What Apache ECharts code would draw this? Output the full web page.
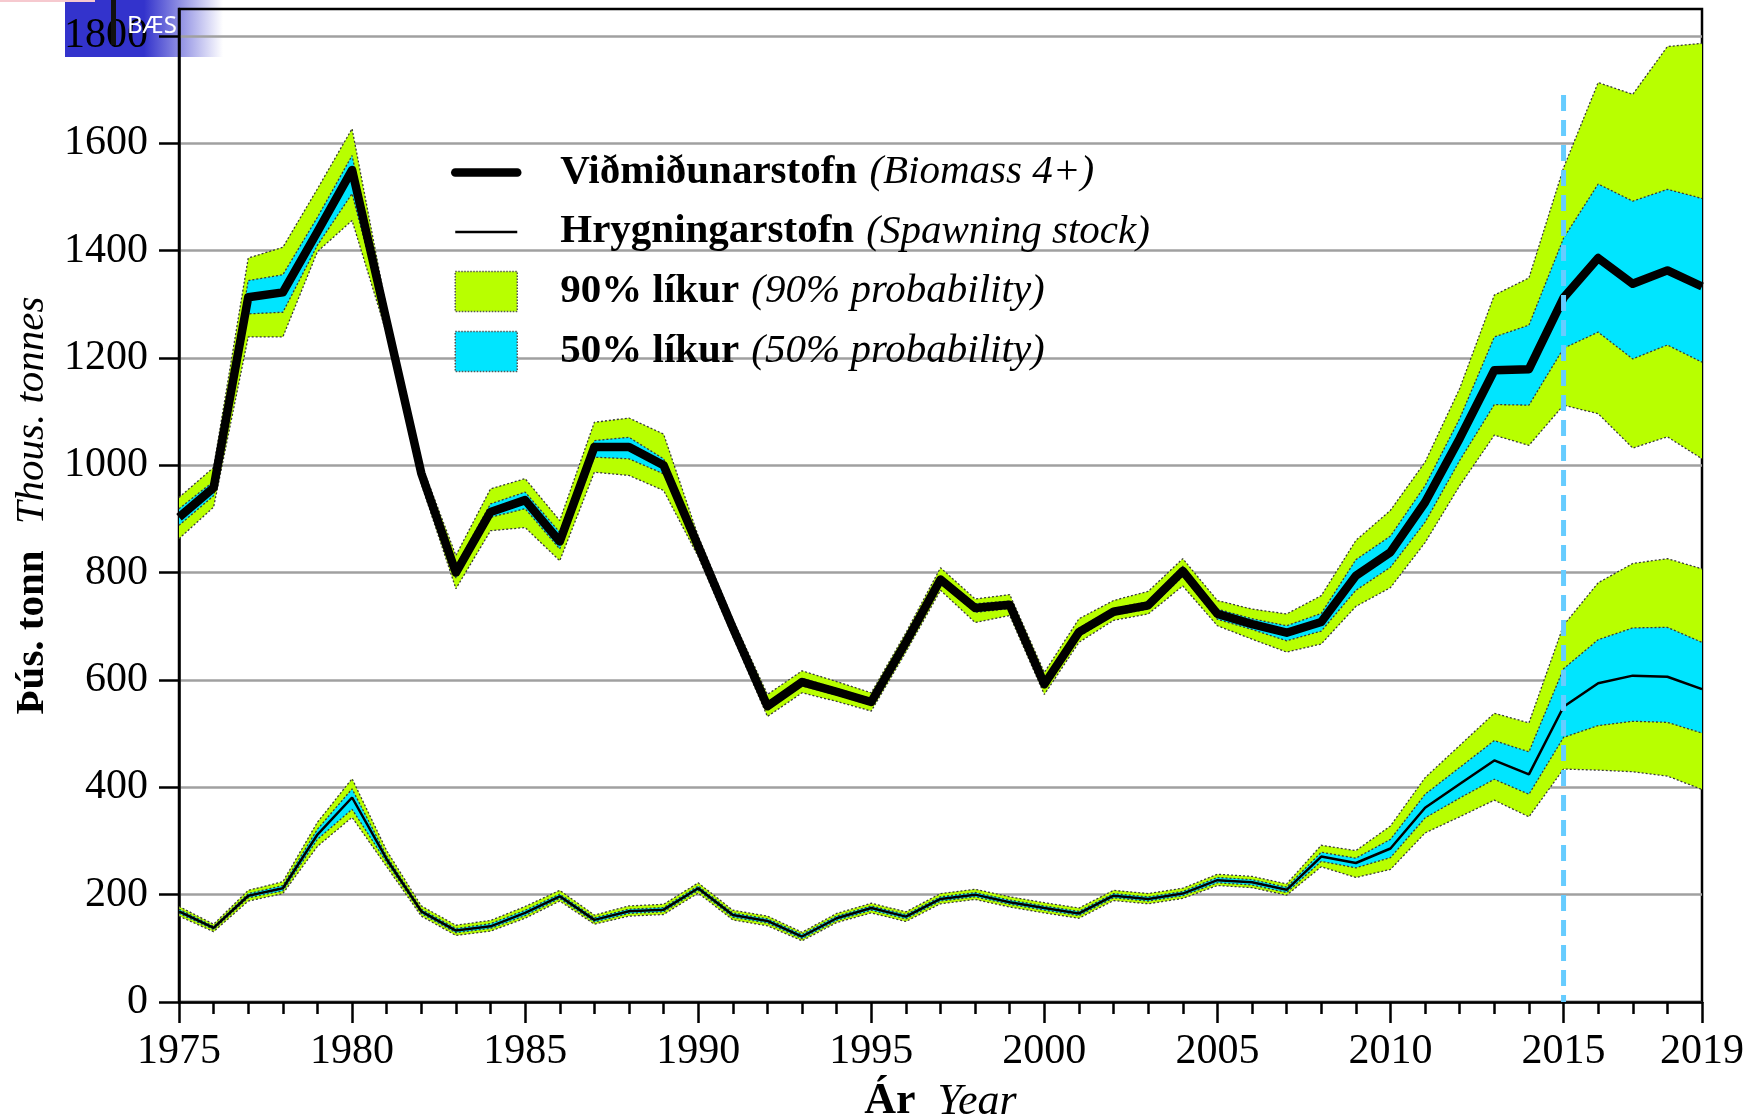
<!DOCTYPE html>
<html>
<head>
<meta charset="utf-8">
<title>Viðmiðunarstofn og hrygningarstofn</title>
<script src="https://cdn.jsdelivr.net/npm/echarts@6.0.0/dist/echarts.min.js"></script>
<style>
  html, body { margin: 0; padding: 0; background: #fff; }
  #chart { width: 1752px; height: 1119px; }
</style>
</head>
<body>
<div id="chart"></div>
<script>
// ár
const years = [1975, 1976, 1977, 1978, 1979, 1980, 1981, 1982, 1983, 1984,
  1985, 1986, 1987, 1988, 1989, 1990, 1991, 1992, 1993, 1994,
  1995, 1996, 1997, 1998, 1999, 2000, 2001, 2002, 2003, 2004,
  2005, 2006, 2007, 2008, 2009, 2010, 2011, 2012, 2013, 2014,
  2015, 2016, 2017, 2018, 2019]

// Viðmiðunarstofn (Biomass 4+), þús. tonn
const bioMedian = [903, 958, 1313, 1322, 1435, 1550, 1268, 985, 800, 913,
  935, 858, 1034, 1034, 1000, 849, 697, 551, 596, 578,
  559, 670, 787, 734, 740, 592, 689, 727, 739, 803,
  723, 704, 688, 708, 794, 838, 931, 1050, 1177, 1179,
  1312, 1386, 1338, 1363, 1333]
const bio90Low = [863, 922, 1239, 1239, 1398, 1456, 1245, 965, 770, 878,
  884, 822, 987, 981, 953, 830, 681, 532, 576, 560,
  542, 652, 767, 707, 720, 573, 670, 711, 723, 775,
  701, 676, 652, 667, 737, 772, 856, 962, 1056, 1037,
  1112, 1096, 1032, 1053, 1012]
const bio90High = [940, 996, 1386, 1406, 1515, 1627, 1290, 1002, 832, 956,
  975, 897, 1080, 1088, 1058, 868, 713, 573, 617, 597,
  576, 688, 809, 751, 759, 614, 714, 748, 765, 826,
  748, 732, 723, 757, 860, 916, 1006, 1143, 1317, 1349,
  1554, 1713, 1691, 1780, 1786]
const bio50Low = [888, 943, 1282, 1285, 1410, 1506, 1258, 977, 790, 903,
  919, 844, 1015, 1012, 984, 843, 691, 545, 589, 572,
  553, 664, 780, 726, 733, 585, 681, 721, 732, 793,
  713, 694, 673, 691, 767, 810, 894, 1009, 1113, 1112,
  1218, 1248, 1198, 1224, 1192]
const bio50High = [919, 970, 1344, 1355, 1462, 1577, 1278, 993, 812, 928,
  950, 875, 1046, 1052, 1012, 856, 703, 558, 603, 584,
  565, 676, 794, 742, 747, 599, 697, 733, 746, 812,
  732, 714, 701, 724, 824, 868, 962, 1087, 1239, 1261,
  1423, 1524, 1492, 1514, 1497]

// Hrygningarstofn (Spawning stock), þús. tonn
const ssbMedian = [169, 138, 198, 212, 312, 381, 266, 169, 133, 141,
  166, 197, 153, 169, 172, 212, 162, 151, 122, 156,
  175, 159, 192, 200, 186, 175, 165, 198, 192, 202,
  227, 223, 209, 271, 259, 286, 362, 406, 450, 424,
  550, 594, 608, 606, 583]
const ssb90Low = [160, 131, 188, 202, 290, 344, 252, 160, 124, 132,
  156, 188, 145, 160, 163, 203, 153, 142, 114, 148,
  166, 150, 183, 191, 177, 166, 156, 189, 183, 193,
  217, 213, 199, 252, 232, 247, 315, 345, 376, 345,
  434, 432, 429, 421, 396]
const ssb90High = [178, 145, 208, 224, 335, 416, 282, 179, 143, 152,
  178, 208, 162, 179, 182, 222, 171, 160, 130, 165,
  184, 168, 202, 210, 196, 185, 175, 208, 202, 212,
  238, 234, 220, 292, 282, 328, 418, 478, 538, 520,
  702, 781, 817, 826, 807]
const ssb50Low = [165, 135, 194, 207, 303, 359, 260, 165, 129, 137,
  161, 193, 149, 165, 168, 208, 158, 147, 118, 152,
  171, 155, 188, 196, 182, 171, 161, 194, 188, 198,
  222, 218, 204, 262, 250, 269, 343, 380, 415, 387,
  493, 515, 523, 521, 501]
const ssb50High = [173, 141, 202, 217, 322, 397, 272, 173, 137, 146,
  171, 201, 157, 173, 176, 216, 166, 155, 126, 160,
  179, 163, 196, 204, 190, 179, 169, 202, 196, 206,
  232, 228, 214, 279, 268, 303, 387, 437, 487, 466,
  621, 675, 697, 698, 670]

// spá hefst 2015 (lóðrétt strikalína)
const projYear = '2015'
const projLineTop = 1690

// ásar
const yTicks = [0, 200, 400, 600, 800, 1000, 1200, 1400, 1600, 1800]
const yearLabels = years.map(String)

const bioName = 'Viðmiðunarstofn'
const ssbName = 'Hrygningarstofn'
const p90Name = '90% líkur'
const p50Name = '50% líkur'
const legendText = {
  [bioName]: '{b|Viðmiðunarstofn} {i|(Biomass 4+)}',
  [ssbName]: '{b|Hrygningarstofn} {i|(Spawning stock)}',
  [p90Name]: '{b|90% líkur} {i|(90% probability)}',
  [p50Name]: '{b|50% líkur} {i|(50% probability)}'
}

const serif = '"Liberation Serif", "Times New Roman", serif'
const green = '#b8ff00'
const cyan = '#00e5ff'
const edge = { color: '#3a3a3a', width: 1.3, type: [2, 2] }

// bil = neðri mörk + breidd staflað ofan á
function band (name, stackId, lo, hi, color) {
  return [
    {
      name: stackId, type: 'line', stack: stackId, data: lo,
      symbol: 'none', lineStyle: edge, silent: true
    },
    {
      name, type: 'line', stack: stackId,
      data: hi.map((v, i) => v - lo[i]),
      symbol: 'none', lineStyle: edge, itemStyle: { color },
      areaStyle: { color, opacity: 1 }, silent: true
    }
  ]
}

const richText = (size, gap) => ({
  b: { fontFamily: serif, fontSize: size, fontWeight: 'bold', color: '#000', lineHeight: size },
  i: { fontFamily: serif, fontSize: size, fontStyle: 'italic', color: '#000', lineHeight: size, padding: [0, 0, 0, gap] }
})

const majorYear = (i, v) => Number(v) % 5 === 0 || i === years.length - 1
const axisLine = { show: true, lineStyle: { color: '#000', width: 2.5 } }
const noIcon = { color: 'rgba(0,0,0,0)', borderColor: 'rgba(0,0,0,0)', borderWidth: 0 }

let mychart = echarts.init(document.getElementById('chart'))

mychart.setOption({
  animation: false,
  backgroundColor: '#fff',
  grid: {
    left: 179, right: 50, top: 9, bottom: 117,
    show: true, borderColor: '#000', borderWidth: 2.5,
    outerBoundsMode: 'none'
  },
  legend: {
    orient: 'vertical',
    left: 446,
    top: 147,
    itemWidth: 62,
    itemHeight: 40,
    itemGap: 18.4,
    selectedMode: false,
    data: [
      { name: bioName, itemStyle: noIcon, lineStyle: { width: 8.5, cap: 'round', color: '#000' } },
      { name: ssbName, itemStyle: noIcon, lineStyle: { width: 2.5, color: '#000' } },
      { name: p90Name, icon: 'rect', itemStyle: { color: green, borderColor: '#555', borderWidth: 1.5, borderType: 'dotted' } },
      { name: p50Name, icon: 'rect', itemStyle: { color: cyan, borderColor: '#555', borderWidth: 1.5, borderType: 'dotted' } }
    ],
    formatter: n => legendText[n],
    textStyle: {
      fontFamily: serif, fontSize: 41, color: '#000', lineHeight: 40,
      padding: [0, 0, 0, 38],
      rich: richText(41, 2)
    }
  },
  xAxis: [
    {
      type: 'category', data: yearLabels, boundaryGap: false,
      axisLine,
      axisTick: { show: true, interval: majorYear, length: 21, lineStyle: { color: '#000', width: 2.5 } },
      axisLabel: { interval: majorYear, fontFamily: serif, fontSize: 42, color: '#000', margin: 29 },
      splitLine: { show: false },
      name: '{b|Ár}{i|Year}',
      nameLocation: 'middle',
      nameGap: 78,
      nameTextStyle: { rich: richText(44, 22) }
    },
    {
      // árlegir smástrikar
      type: 'category', data: yearLabels, boundaryGap: false, position: 'bottom',
      axisLine: { show: false },
      axisTick: { show: true, interval: 0, length: 12, lineStyle: { color: '#000', width: 2.5 } },
      axisLabel: { show: false },
      splitLine: { show: false }
    }
  ],
  yAxis: {
    type: 'value', min: 0, max: 1850, interval: 200,
    axisLine,
    axisTick: { show: true, length: 20, customValues: yTicks, lineStyle: { color: '#000', width: 2.5 } },
    axisLabel: { customValues: yTicks, formatter: v => String(v), fontFamily: serif, fontSize: 42, color: '#000', margin: 31 },
    splitLine: { show: true, lineStyle: { color: '#a0a0a0', width: 2.5 } },
    name: '{b|Þús. tonn}{i|Thous. tonnes}',
    nameLocation: 'middle',
    nameRotate: 90,
    nameGap: 121,
    nameTextStyle: { rich: richText(41, 26) }
  },
  series: [
    ...band(p90Name, 'bio90', bio90Low, bio90High, green),
    ...band(p90Name, 'ssb90', ssb90Low, ssb90High, green),
    ...band(p50Name, 'bio50', bio50Low, bio50High, cyan),
    ...band(p50Name, 'ssb50', ssb50Low, ssb50High, cyan),
    {
      name: bioName, type: 'line', data: bioMedian, symbol: 'none',
      lineStyle: { color: '#000', width: 8.5, join: 'round' }, itemStyle: { color: '#000' }, silent: true
    },
    {
      name: ssbName, type: 'line', data: ssbMedian, symbol: 'none',
      lineStyle: { color: '#000', width: 2.5 }, itemStyle: { color: '#000' }, silent: true
    },
    {
      name: 'spá', type: 'line', data: [[projYear, projLineTop], [projYear, 0]], symbol: 'none',
      lineStyle: { color: '#66ccff', width: 5, type: [16, 9] }, z: 5, silent: true
    }
  ],
  graphic: [
    {
      type: 'rect', z: -1, shape: { x: 65, y: 0, width: 158, height: 57 },
      style: {
        fill: new echarts.graphic.LinearGradient(0, 0, 1, 0, [
          { offset: 0, color: '#3333cc' },
          { offset: 0.5, color: '#3333cc' },
          { offset: 1, color: 'rgba(51,51,204,0)' }
        ])
      }
    },
    { type: 'rect', z: 10, shape: { x: 0, y: 0, width: 95, height: 2 }, style: { fill: '#f6c9cf' } },
    { type: 'rect', z: 10, shape: { x: 111, y: 0, width: 5, height: 45 }, style: { fill: '#111' } },
    { type: 'text', z: 10, x: 127, y: 14, style: { text: 'BÆS', fill: '#fff', font: '24px "Noto Sans"' } }
  ]
})
</script>
</body>
</html>
